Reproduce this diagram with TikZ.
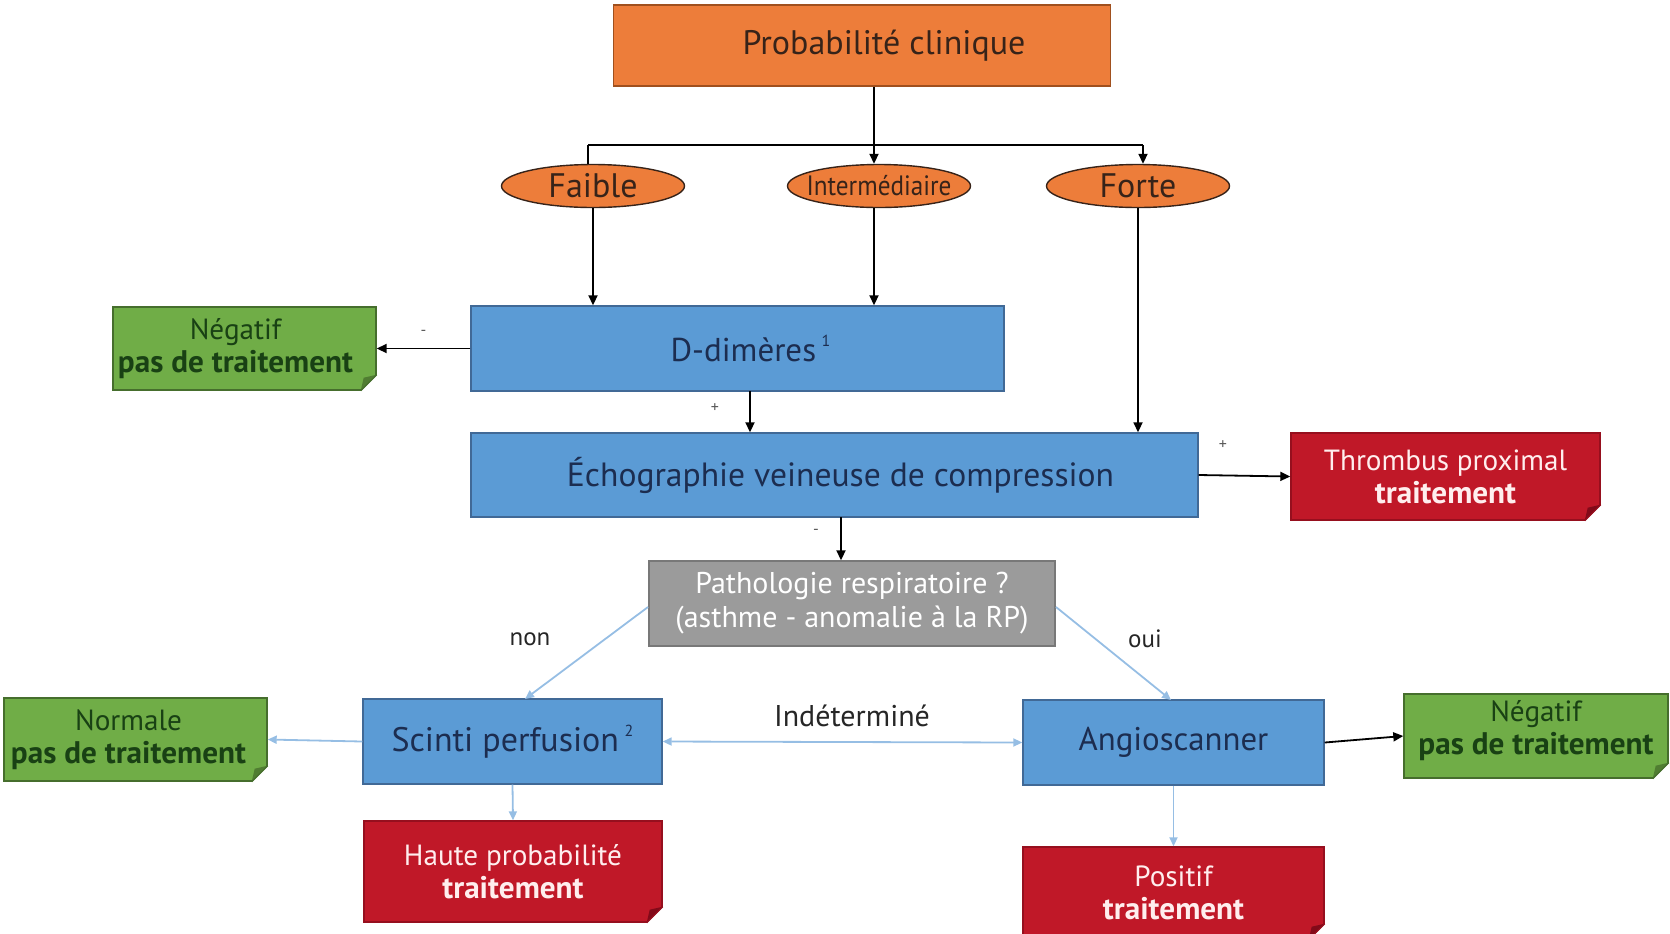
\documentclass[tikz,border=0pt]{standalone}
\usepackage{fontspec}
\usepackage{graphicx}
\setmainfont{PT Sans}
\usetikzlibrary{arrows.meta,shapes.geometric,calc}

\definecolor{orFill}{RGB}{237,125,58}
\definecolor{orLine}{RGB}{160,80,30}
\definecolor{orText}{RGB}{55,35,25}
\definecolor{blFill}{RGB}{91,155,213}
\definecolor{blLine}{RGB}{65,105,150}
\definecolor{blText}{RGB}{28,45,80}
\definecolor{grFill}{RGB}{112,173,71}
\definecolor{grLine}{RGB}{70,110,45}
\definecolor{grDark}{RGB}{80,125,50}
\definecolor{grText}{RGB}{25,65,20}
\definecolor{rdFill}{RGB}{192,24,40}
\definecolor{rdLine}{RGB}{150,15,30}
\definecolor{rdDark}{RGB}{130,10,25}
\definecolor{rdText}{RGB}{255,238,238}
\definecolor{gyFill}{RGB}{155,155,155}
\definecolor{gyLine}{RGB}{120,120,120}
\definecolor{lightArrow}{RGB}{150,190,228}
\definecolor{lblGray}{RGB}{90,90,90}

% folded bottom-right corner of a note box: #1 node, #2 line colour, #3 fold colour
\newcommand\dogear[3]{%
  \fill[white] ($(#1.south east)+(0.8pt,8.5pt)$) -- ($(#1.south east)+(0.8pt,-0.8pt)$)
     -- ($(#1.south east)+(-8.5pt,-0.8pt)$) -- cycle;
  \fill[#3] ($(#1.south east)+(0,8pt)$) -- ($(#1.south east)+(-8pt,0)$)
     -- ($(#1.south east)+(-6.5pt,6.5pt)$) -- cycle;
  \draw[#2,line width=0.6pt] ($(#1.south east)+(0,8pt)$) -- ($(#1.south east)+(-8pt,0)$);
}
% two-line note text: plain first line, bold second line, optional right padding
\newcommand\notetext[3][0pt]{#2\hspace*{#1}\\{\fontsize{15.6}{16.5}\selectfont\bfseries #3}\hspace*{#1}}

\tikzset{
  boxbase/.style={rectangle, align=center, inner sep=2pt, line width=0.7pt},
  orbox/.style={boxbase, fill=orFill, draw=orLine, text=orText},
  blbox/.style={boxbase, fill=blFill, draw=blLine, text=blText},
  notebox/.style={boxbase, font=\fontsize{14.6}{16.5}\selectfont},
  grbox/.style={notebox, fill=grFill, draw=grLine, text=grText},
  rdbox/.style={notebox, fill=rdFill, draw=rdLine, text=rdText},
  gybox/.style={boxbase, fill=gyFill, draw=gyLine, text=white},
  oval/.style={ellipse, fill=orFill, draw=orText, line width=0.7pt, text=orText,
    minimum width=91.5pt, minimum height=21.5pt, inner sep=0pt},
  conn/.style={line width=0.9pt, black, -{Triangle[length=5pt,width=4.5pt]}},
  plain/.style={line width=0.9pt, black},
  lconn/.style={line width=0.9pt, lightArrow, -{Triangle[length=4.5pt,width=4pt]}},
  ldconn/.style={line width=0.9pt, lightArrow, {Triangle[length=4.5pt,width=4pt]}-{Triangle[length=4.5pt,width=4pt]}},
  sign/.style={text=lblGray, font=\fontsize{8}{9}\selectfont, inner sep=0pt},
  lbl/.style={text=black!85, inner sep=0pt},
}

\begin{document}
\begin{tikzpicture}[x=0.5pt,y=-0.5pt]
\useasboundingbox (0,0) rectangle (1670,933);

% top box and the three probability levels
\node[orbox, minimum width=248.5pt, minimum height=40.5pt, font=\fontsize{17}{18}\selectfont] (prob) at (862,45.5) {\hspace*{22pt}Probabilité clinique};
\node[oval, font=\fontsize{17}{18}\selectfont] (faible) at (593,186) {Faible};
\node[oval, font=\fontsize{14}{15}\selectfont] (inter) at (879,186) {\makebox[60pt]{\scalebox{0.9}[1]{Intermédiaire}}};
\node[oval, font=\fontsize{17}{18}\selectfont] (forte) at (1138,186) {Forte};

% main examination boxes
\node[blbox, minimum width=266.5pt, minimum height=42.5pt, font=\fontsize{16.5}{18}\selectfont] (ddim) at (737.5,348.5) {\hspace*{13pt}D-dimères\,\raisebox{0.9ex}{\fontsize{8}{9}\selectfont 1}};
\node[blbox, minimum width=363.5pt, minimum height=42pt, font=\fontsize{16.8}{18}\selectfont] (echo) at (834.5,475) {\hspace*{6pt}Échographie veineuse de compression};
\node[gybox, minimum width=203pt, minimum height=42.5pt, font=\fontsize{15}{17}\selectfont] (patho) at (852,603.5) {Pathologie respiratoire ?\\(asthme - anomalie à la RP)};
\node[blbox, minimum width=149.5pt, minimum height=42.5pt, font=\fontsize{17}{18}\selectfont] (scinti) at (512.5,741.5) {Scinti perfusion\,\raisebox{0.9ex}{\fontsize{8}{9}\selectfont 2}};
\node[blbox, minimum width=150.5pt, minimum height=42.5pt, font=\fontsize{16.4}{18}\selectfont] (angio) at (1173.5,742.5) {Angioscanner};

% outcome notes
\node[grbox, minimum width=131.5pt, minimum height=41.5pt] (neg1) at (244.5,348.5) {\notetext[9pt]{Négatif}{pas de traitement}};
\node[rdbox, minimum width=154.5pt, minimum height=43.5pt] (thromb) at (1445.5,476.5) {\notetext{Thrombus proximal}{traitement}};
\node[grbox, minimum width=131.5pt, minimum height=41.5pt] (normale) at (135.5,739.5) {\notetext[7pt]{Normale}{pas de traitement}};
\node[grbox, minimum width=132pt, minimum height=42pt, text depth=9pt] (neg2) at (1536,736) {\notetext{Négatif}{pas de traitement}};
\node[rdbox, minimum width=149pt, minimum height=50.5pt] (haute) at (513,871.5) {\notetext{Haute probabilité}{traitement}};
\node[rdbox, minimum width=150.5pt, minimum height=46pt] (positif) at (1173.5,893) {\notetext{Positif}{traitement}};

\dogear{neg1}{grLine}{grDark}
\dogear{thromb}{rdLine}{rdDark}
\dogear{normale}{grLine}{grDark}
\dogear{neg2}{grLine}{grDark}
\dogear{haute}{rdLine}{rdDark}
\dogear{positif}{rdLine}{rdDark}

% branching below the top box
\coordinate (split) at (874,145);
\coordinate (splitL) at (588,145);
\coordinate (splitR) at (1143,145);
\draw[conn] (prob.south -| split) -- (inter.north -| split);
\draw[plain] (splitL) -- (splitR);
\draw[plain] (splitL) -- (faible.north -| splitL);
\draw[conn] (splitR) -- (forte.north -| splitR);

% from the levels to the examinations
\draw[conn] (faible.south) -- (ddim.north -| faible.south);
\draw[conn] (inter.south -| split) -- (ddim.north -| split);
\draw[conn] (forte.south) -- (echo.north -| forte.south);

\draw[conn] (ddim.west) -- (neg1.east) node[sign, pos=0.5, above=6pt] {-};
\coordinate (ddimOut) at (750,391);
\draw[conn] (ddimOut) -- (echo.north -| ddimOut);
\node[sign] (plusA) at (715,408) {+};
\draw[conn] (echo.east) -- (thromb.west);
\node[sign] (plusB) at (1223,445) {+};
\coordinate (echoOut) at (841,517);
\draw[conn] (echoOut) -- (patho.north -| echoOut);
\node[sign] (minusB) at (816,532) {-};

% respiratory pathology branches
\coordinate (pathoL) at (648,607);
\coordinate (pathoR) at (1056,607);
\coordinate (scintiIn) at (525,699);
\coordinate (angioIn) at (1171,700);
\draw[lconn] (pathoL) -- (scintiIn);
\draw[lconn] (pathoR) -- (angioIn);
\node[lbl, font=\fontsize{12.5}{14}\selectfont] (non) at (530,639) {non};
\node[lbl, font=\fontsize{12.5}{14}\selectfont] (oui) at (1145,639) {oui};

\draw[ldconn] (scinti.east) -- (angio.west);
\node[lbl, font=\fontsize{15}{17}\selectfont] (indet) at (852,716) {Indéterminé};

\draw[lconn] (scinti.west) -- (normale.east);
\draw[conn] (angio.east) -- (neg2.west);
\draw[lconn] (scinti.south) -- (haute.north);
\draw[lconn] (angio.south) -- (positif.north);
\end{tikzpicture}
\end{document}
